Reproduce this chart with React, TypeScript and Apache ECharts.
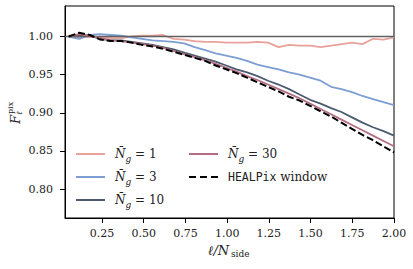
import React, { useEffect, useRef } from "react";
import * as echarts from "echarts";

const ell = [0.05, 0.113, 0.176, 0.239, 0.302, 0.365, 0.427, 0.49, 0.553, 0.616, 0.679, 0.742, 0.805, 0.868, 0.931, 0.994, 1.056, 1.119, 1.182, 1.245, 1.308, 1.371, 1.434, 1.497, 1.56, 1.623, 1.685, 1.748, 1.811, 1.874, 1.937, 2.0];

const ng1 = [1.001, 0.999, 1.0, 0.999, 0.998, 0.998, 1.0, 1.001, 1.001, 1.002, 0.997, 0.996, 0.994, 0.993, 0.993, 0.992, 0.992, 0.992, 0.993, 0.992, 0.986, 0.989, 0.988, 0.988, 0.986, 0.988, 0.99, 0.992, 0.99, 0.997, 0.996, 0.999];
const ng3 = [1.0, 0.997, 1.002, 1.003, 1.002, 1.001, 0.999, 0.997, 0.995, 0.994, 0.993, 0.991, 0.986, 0.982, 0.978, 0.975, 0.972, 0.968, 0.963, 0.96, 0.957, 0.953, 0.95, 0.946, 0.942, 0.934, 0.931, 0.927, 0.922, 0.918, 0.914, 0.91];
const ng10 = [1.0, 1.002, 1.001, 0.997, 0.995, 0.995, 0.993, 0.991, 0.989, 0.986, 0.983, 0.979, 0.975, 0.971, 0.967, 0.962, 0.957, 0.953, 0.948, 0.942, 0.937, 0.931, 0.924, 0.917, 0.912, 0.906, 0.901, 0.894, 0.887, 0.881, 0.876, 0.87];
const ng30 = [1.0, 1.003, 1.001, 0.998, 0.995, 0.994, 0.992, 0.99, 0.988, 0.985, 0.981, 0.977, 0.973, 0.969, 0.964, 0.959, 0.954, 0.948, 0.943, 0.937, 0.931, 0.925, 0.919, 0.912, 0.905, 0.898, 0.891, 0.884, 0.877, 0.87, 0.863, 0.856];
const healpix = [1.0, 1.005, 1.002, 0.996, 0.994, 0.994, 0.992, 0.989, 0.987, 0.984, 0.98, 0.976, 0.972, 0.968, 0.962, 0.957, 0.952, 0.946, 0.94, 0.934, 0.928, 0.921, 0.916, 0.909, 0.902, 0.895, 0.887, 0.879, 0.871, 0.864, 0.856, 0.848];

const xTicks = [0.25, 0.5, 0.75, 1.0, 1.25, 1.5, 1.75, 2.0];
const yTicks = [0.8, 0.85, 0.9, 0.95, 1.0];

const names = ["N1", "N3", "N10", "N30", "HEALPix"];
const labels: Record<string, string> = {
  N1: "{n|N\u0304}{g|g}{t| = 1}",
  N3: "{n|N\u0304}{g|g}{t| = 3}",
  N10: "{n|N\u0304}{g|g}{t| = 10}",
  N30: "{n|N\u0304}{g|g}{t| = 30}",
  HEALPix: "{m|HEALPix}{t| window}",
};
const colors = ["#e9a19b", "#7c9ed3", "#4d5b70", "#b36c82", "#000000"];
const seriesData = [ng1, ng3, ng10, ng30, healpix];

const SERIF = "DejaVu Serif";
const SOLID_ICON = "path://M0,0h29v2h-29z";
const DASH_ICON = "path://M0,0h7v2h-7z M11,0h7v2h-7z M22,0h7v2h-7z";

export default function App() {
  const ref = useRef<HTMLDivElement>(null);
  useEffect(() => {
    if (!ref.current) return;
    const chart = echarts.init(ref.current, null, { renderer: "svg" });
    const rich = {
      n: { fontFamily: SERIF, fontStyle: "italic", fontSize: 12, lineHeight: 18, padding: [0, 0, 0, 5], color: "#222" },
      g: { fontFamily: SERIF, fontStyle: "italic", fontSize: 9, lineHeight: 9, verticalAlign: "bottom", color: "#222" },
      t: { fontFamily: SERIF, fontSize: 12, lineHeight: 18, color: "#222" },
      m: { fontFamily: "DejaVu Sans Mono", fontSize: 11.5, lineHeight: 18, padding: [0, 0, 0, 5], color: "#222" },
    };
    const legendCommon = {
      orient: "vertical",
      padding: 0,
      itemWidth: 29,
      itemHeight: 14,
      itemGap: 8,
      symbolKeepAspect: true,
      formatter: (name: string) => labels[name],
      textStyle: { fontFamily: SERIF, fontSize: 12, color: "#222", rich },
      selectedMode: false,
    };
    const legendItem = (name: string) => ({ name, icon: name === "HEALPix" ? DASH_ICON : SOLID_ICON });
    chart.setOption({
      animation: false,
      backgroundColor: "#fff",
      grid: { left: 65, right: 19, top: 6, bottom: 51, show: true, borderColor: "#000", borderWidth: 1, backgroundColor: "transparent" },
      legend: [
        { ...legendCommon, data: names.slice(0, 3).map(legendItem), left: 76, top: 148 },
        { ...legendCommon, data: names.slice(3).map(legendItem), left: 189, top: 148 },
      ],
      xAxis: {
        type: "value",
        min: 0.028,
        max: 2.0,
        axisLine: { show: true, lineStyle: { color: "#000", width: 1 } },
        axisTick: { show: true, length: 5, lineStyle: { color: "#000", width: 1 }, customValues: xTicks },
        axisLabel: {
          customValues: xTicks,
          formatter: (v: number) => v.toFixed(2),
          fontFamily: SERIF,
          fontSize: 11,
          color: "#222",
          margin: 10,
        },
        splitLine: { show: false },
      },
      yAxis: {
        type: "value",
        min: 0.762,
        max: 1.04,
        axisLine: { show: true, lineStyle: { color: "#000", width: 1 } },
        axisTick: { show: true, length: 5, lineStyle: { color: "#000", width: 1 }, customValues: yTicks },
        axisLabel: {
          customValues: yTicks,
          formatter: (v: number) => v.toFixed(2),
          fontFamily: SERIF,
          fontSize: 11,
          color: "#222",
          margin: 12,
        },
        splitLine: { show: false },
      },
      series: names.map((name, i) => ({
        type: "line",
        name,
        data: ell.map((x, k) => [x, seriesData[i][k]]),
        symbol: "none",
        showSymbol: false,
        color: colors[i],
        lineStyle: i === 4 ? { color: colors[i], width: 2, type: [7, 3] } : { color: colors[i], width: 1.8 },
        z: 2 + i,
        markLine:
          i === 0
            ? {
                silent: true,
                symbol: "none",
                label: { show: false },
                lineStyle: { color: "#606060", width: 1.3, type: "solid" },
                data: [{ yAxis: 1.0 }],
              }
            : undefined,
      })),
      graphic: [
        {
          type: "group",
          x: 15,
          y: 124,
          rotation: Math.PI / 2,
          children: [
            { type: "text", x: 0, y: 0, style: { text: "F", font: `italic 13px "${SERIF}"`, fill: "#222", verticalAlign: "middle", align: "left" } },
            { type: "text", x: 10, y: -5, style: { text: "pix", font: `8px "${SERIF}"`, fill: "#222", verticalAlign: "middle", align: "left" } },
            { type: "text", x: 9, y: 4, style: { text: "\u2113", font: `italic 8px "${SERIF}"`, fill: "#222", verticalAlign: "middle", align: "left" } },
          ],
        },
        {
          type: "group",
          x: 208,
          y: 250,
          children: [
            { type: "text", x: 0, y: 0, style: { text: "\u2113/N", font: `italic 13px "${SERIF}"`, fill: "#222", verticalAlign: "middle", align: "left" } },
            { type: "text", x: 23, y: 4, style: { text: "side", font: `9px "${SERIF}"`, fill: "#222", verticalAlign: "middle", align: "left" } },
          ],
        },
      ],
    });
    return () => chart.dispose();
  }, []);
  return (
    <div
      ref={ref}
      style={{ position: "fixed", left: 0, top: 0, width: 413, height: 269, background: "#fff" }}
    />
  );
}
